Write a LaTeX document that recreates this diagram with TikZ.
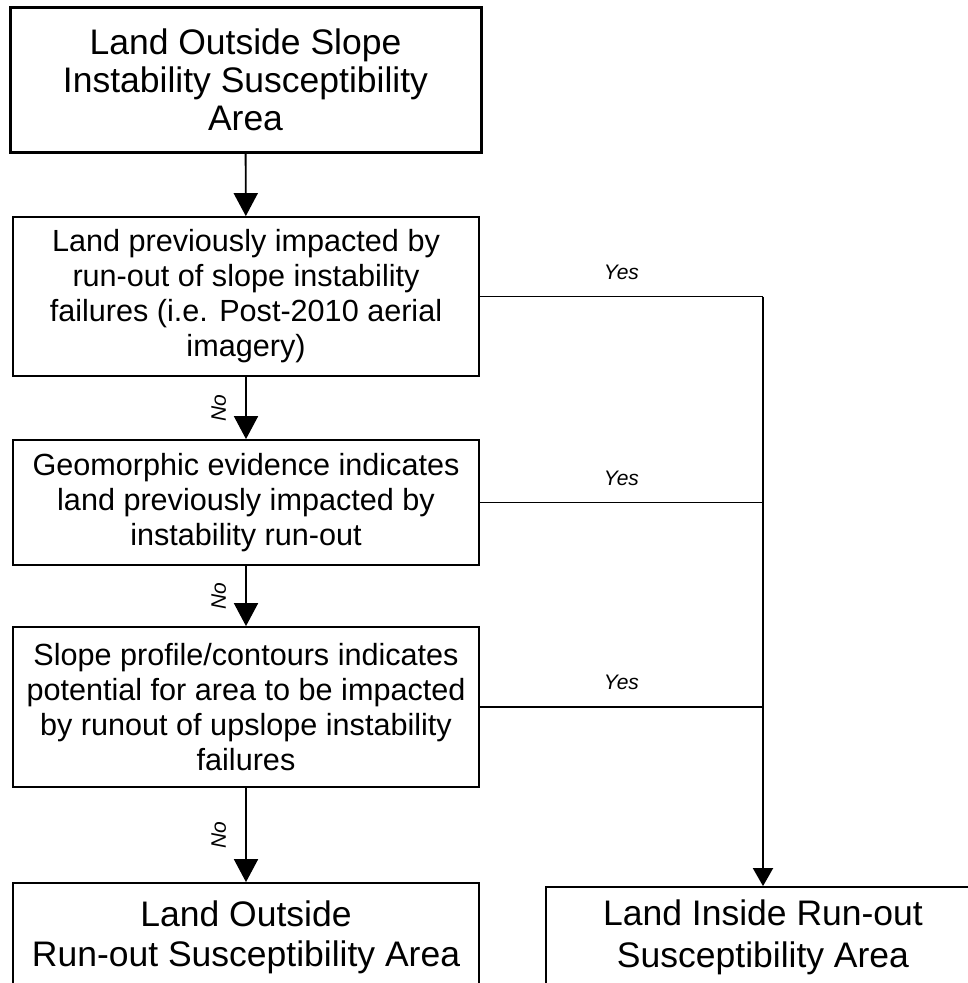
\documentclass[tikz,border=0pt]{standalone}
\usepackage{fontspec}
\setmainfont{Liberation Sans}
\usetikzlibrary{arrows.meta}

\begin{document}
\begin{tikzpicture}[x=1pt,y=-1pt]
		\useasboundingbox (0,0) rectangle (968,983);
		\clip (0,0) rectangle (968,983);

		\begin{scope}[every node/.style={rectangle,draw,line width=1.8pt,align=center,inner sep=0pt,
		              minimum width=466pt,font=\fontsize{30.6}{35}\selectfont}]
		    \node[line width=3pt,minimum width=471pt,minimum height=145pt,font=\fontsize{35.5}{38}\selectfont]
		        (outside) at (245.5,79.5) {Land Outside Slope\\Instability Susceptibility\\Area};
		    \node[minimum height=159pt] (aerial) at (246,296.5)
		        {Land previously impacted by\\run-out of slope instability\\failures (i.e. Post-2010 aerial\\imagery)};
		    \node[minimum height=125pt] (geomorph) at (246,502.5)
		        {Geomorphic evidence indicates\\land previously impacted by\\instability run-out};
		    \node[minimum height=160pt] (profile) at (246,707)
		        {Slope profile/contours indicates\\potential for area to be impacted\\by runout of upslope instability\\failures};
		    \node[minimum height=108pt,font=\fontsize{35.5}{40}\selectfont] (outrun) at (246,937)
		        {Land Outside\\Run-out Susceptibility Area};
		    \node[minimum width=434pt,minimum height=100pt,font=\fontsize{35.5}{42}\selectfont] (inrun) at (763,937)
		        {Land Inside Run-out\\Susceptibility Area};
		\end{scope}

		\coordinate (rail) at (aerial.east -| inrun.north);

		\begin{scope}[>={Triangle[width=24pt,length=23pt]},
		              every edge/.style={draw=black,line width=1.9pt,->},
		              every node/.style={font=\fontsize{21}{24}\selectfont\itshape}]
		    	\path (outside) edge (aerial);
		    	\path (aerial) edge node[midway,rotate=90,anchor=south,inner sep=19pt] {No} (geomorph);
		    	\path (geomorph) edge node[midway,rotate=90,anchor=south,inner sep=19pt] {No} (profile);
		    	\path (profile) edge node[midway,rotate=90,anchor=south,inner sep=19pt] {No} (outrun);
		    	\draw[line width=1.9pt] (aerial.east) -- node[midway,above,inner sep=16pt] {Yes} (rail);
		    	\draw[line width=1.9pt] (geomorph.east) -- node[midway,above,inner sep=16pt] {Yes} (geomorph.east -| rail);
		    	\draw[line width=1.9pt] (profile.east) -- node[midway,above,inner sep=16pt] {Yes} (profile.east -| rail);
		    	\draw[line width=1.9pt,-{Triangle[width=20pt,length=18pt]}] (rail) -- (inrun.north);
		\end{scope}
\end{tikzpicture}
\end{document}
